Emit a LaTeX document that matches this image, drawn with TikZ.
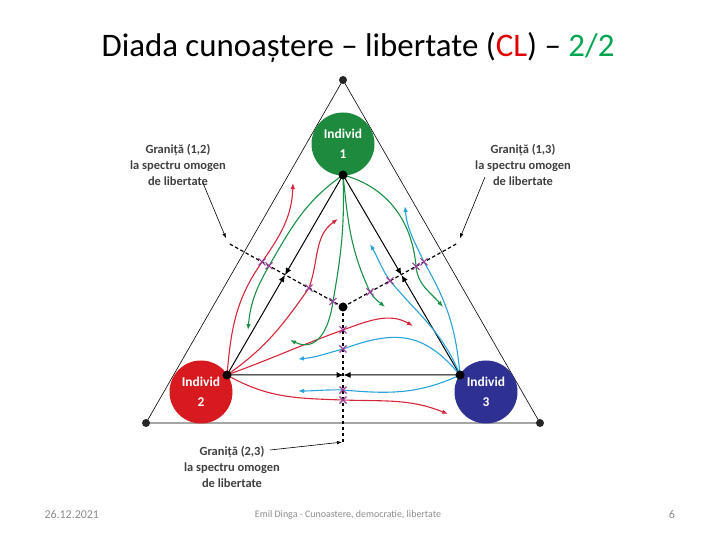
\documentclass[tikz,border=0pt]{standalone}
\usepackage{fontspec}
\setmainfont{Carlito}
\usetikzlibrary{arrows.meta,calc}
\definecolor{IndGreen}{HTML}{1E8A3E}
\definecolor{IndRed}{HTML}{D71920}
\definecolor{IndBlue}{HTML}{2E3092}
\definecolor{FlowGreen}{HTML}{1A8F47}
\definecolor{FlowRed}{HTML}{D6263A}
\definecolor{FlowBlue}{HTML}{29A3DA}
\definecolor{XMark}{HTML}{9B3D97}
\definecolor{TitleRed}{HTML}{E00000}
\definecolor{TitleGreen}{HTML}{00A550}
\definecolor{LabelGray}{HTML}{3F3F3F}
\definecolor{FootGray}{HTML}{8C8C8C}

\begin{document}
\begin{tikzpicture}[x=1bp,y=1bp,
  dot/.style={circle,fill=black,inner sep=0pt,minimum size=9bp},
  vertexdot/.style={circle,fill=black!85,inner sep=0pt,minimum size=8bp},
  indiv/.style={circle,inner sep=0pt,minimum size=63bp,text=white,align=center,
    font=\fontsize{13.5}{20}\selectfont\bfseries},
  border/.style={black,line width=1.2bp,dash pattern=on 3.5bp off 2.5bp},
  edgearr/.style={black,line width=1bp,-{Latex[length=7bp,width=6bp]}},
  flow/.style={line width=1.1bp,-{Latex[length=6bp,width=4.5bp]}},
  redflow/.style={flow,FlowRed},
  greenflow/.style={flow,FlowGreen},
  blueflow/.style={flow,FlowBlue},
  crossmk/.style={XMark,line width=1.1bp},
  granita/.style={text=LabelGray,align=center,font=\fontsize{12.5}{16}\selectfont\bfseries},
  pointer/.style={black,line width=0.6bp,-{Latex[length=5bp,width=3.5bp]}},
  footer/.style={text=FootGray,font=\fontsize{12}{14}\selectfont}]
\path[use as bounding box] (0,0) rectangle (720,540);
\node[font=\fontsize{33}{40}\selectfont] (title) at (358,493)
  {Diada cunoaștere – libertate (\textcolor{TitleRed}{CL}) – \textcolor{TitleGreen}{2/2}};

\coordinate (v1) at (343,460);
\coordinate (v2) at (146,117);
\coordinate (v3) at (540,117);
\coordinate (n1) at (343,365);
\coordinate (n2) at (227,165);
\coordinate (n3) at (460,165);
\coordinate (c) at (343,233);
\coordinate (e12) at (228,297);
\coordinate (e13) at (458,297);
\coordinate (e23) at (343,98);
\coordinate (m12) at ($(n1)!.5!(n2)$);
\coordinate (m13) at ($(n1)!.5!(n3)$);
\coordinate (m23) at ($(n2)!.5!(n3)$);

\coordinate (xR1) at ($(c)!.704!(e12)$);
\coordinate (xG1) at ($(c)!.643!(e12)$);
\coordinate (xR2) at ($(c)!.296!(e12)$);
\coordinate (xG2) at ($(c)!.087!(e12)$);
\coordinate (xG3) at ($(c)!.235!(e13)$);
\coordinate (xB1) at ($(c)!.409!(e13)$);
\coordinate (xG4) at ($(c)!.635!(e13)$);
\coordinate (xB2) at ($(c)!.704!(e13)$);
\coordinate (xR3) at ($(c)!.17!(e23)$);
\coordinate (xB3) at ($(c)!.311!(e23)$);
\coordinate (xB4) at ($(c)!.615!(e23)$);
\coordinate (xR4) at ($(c)!.689!(e23)$);

\coordinate (tR1) at (293,357);
\coordinate (tR2) at (338,321);
\coordinate (tR3) at (413,214);
\coordinate (tR4) at (448,126);
\coordinate (tG1) at (248,210);
\coordinate (tG2) at (290,200);
\coordinate (tG3) at (385,233);
\coordinate (tG4) at (443,233);
\coordinate (tB1) at (370,296);
\coordinate (tB2) at (405,334);
\coordinate (tB3) at (298,181);
\coordinate (tB4) at (298,149);

\draw[line width=0.6bp] (v1) -- (v2) -- (v3) -- cycle;

\node[indiv,fill=IndGreen] (ind1) at (343,396) {Individ\\1};
\node[indiv,fill=IndRed] (ind2) at (201,148) {Individ\\2};
\node[indiv,fill=IndBlue] (ind3) at (486,148) {Individ\\3};

\draw[border] (c) -- (e12);
\draw[border] (c) -- (e13);
\draw[border] (c) -- (e23);

\draw[edgearr] (n1) -- (m12);
\draw[edgearr] (n2) -- (m12);
\draw[edgearr] (n1) -- (m13);
\draw[edgearr] (n3) -- (m13);
\draw[edgearr] (n2) -- (m23);
\draw[edgearr] (n3) -- (m23);

\draw[redflow] (n2) to[out=85,in=235] (xR1) to[out=55,in=268] (tR1);
\draw[redflow] (n2) to[out=35,in=235] (xR2) to[out=70,in=215] (tR2);
\draw[redflow] (n2) to[out=20,in=200] (xR3) to[out=20,in=150] (tR3);
\draw[redflow] (n2) to[out=-30,in=178] (xR4) to[out=-2,in=158] (tR4);

\draw[greenflow] (n1) to[out=215,in=60] (xG1) to[out=240,in=85] (tG1);
\draw[greenflow] (n1) to[out=272,in=80] (xG2) to[out=262,in=-25,looseness=1.3] (tG2);
\draw[greenflow] (n1) to[out=276,in=115] (xG3) to[out=-58,in=140] (tG3);
\draw[greenflow] (n1) to[out=-15,in=95] (xG4) to[out=-85,in=130] (tG4);

\draw[blueflow] (n3) to[out=112,in=-50] (xB1) to[out=125,in=-60] (tB1);
\draw[blueflow] (n3) to[out=95,in=-60] (xB2) to[out=115,in=-85] (tB2);
\draw[blueflow] (n3) to[out=130,in=20,looseness=1.2] (xB3) to[out=195,in=5] (tB3);
\draw[blueflow] (n3) to[out=205,in=-5] (xB4) to[out=178,in=0] (tB4);

\foreach \p in {xR1,xG1,xR2,xG2,xG3,xB1,xG4,xB2,xR3,xB3,xB4,xR4}
  \draw[crossmk] (\p) ++(-3.5,-3.5) -- ++(7,7) ++(-7,0) -- ++(7,-7);

\node[vertexdot] (d1) at (v1) {};
\node[vertexdot] (d2) at (v2) {};
\node[vertexdot] (d3) at (v3) {};
\node[dot] (dn1) at (n1) {};
\node[dot] (dn2) at (n2) {};
\node[dot] (dn3) at (n3) {};
\node[dot] (dc) at (c) {};

\node[granita] (lab12) at (178,375) {Graniță (1,2)\\la spectru omogen\\de libertate};
\node[granita] (lab13) at (523,375) {Graniță (1,3)\\la spectru omogen\\de libertate};
\node[granita] (lab23) at (232,73) {Graniță (2,3)\\la spectru omogen\\de libertate};
\coordinate (s12) at (203,357);
\coordinate (s13) at (485,363);
\coordinate (s23) at (270,90);
\draw[pointer,shorten >=5bp] (s12) -- (e12);
\draw[pointer,shorten >=5bp] (s13) -- (e13);
\draw[pointer,shorten >=1bp] (s23) -- (e23);

\node[footer,anchor=west] (date) at (41,25) {26.12.2021};
\node[footer,font=\fontsize{10}{12}\selectfont] (source) at (348,25)
  {Emil Dinga - Cunoastere, democratie, libertate};
\node[footer] (page) at (672,25) {6};
\end{tikzpicture}
\end{document}
